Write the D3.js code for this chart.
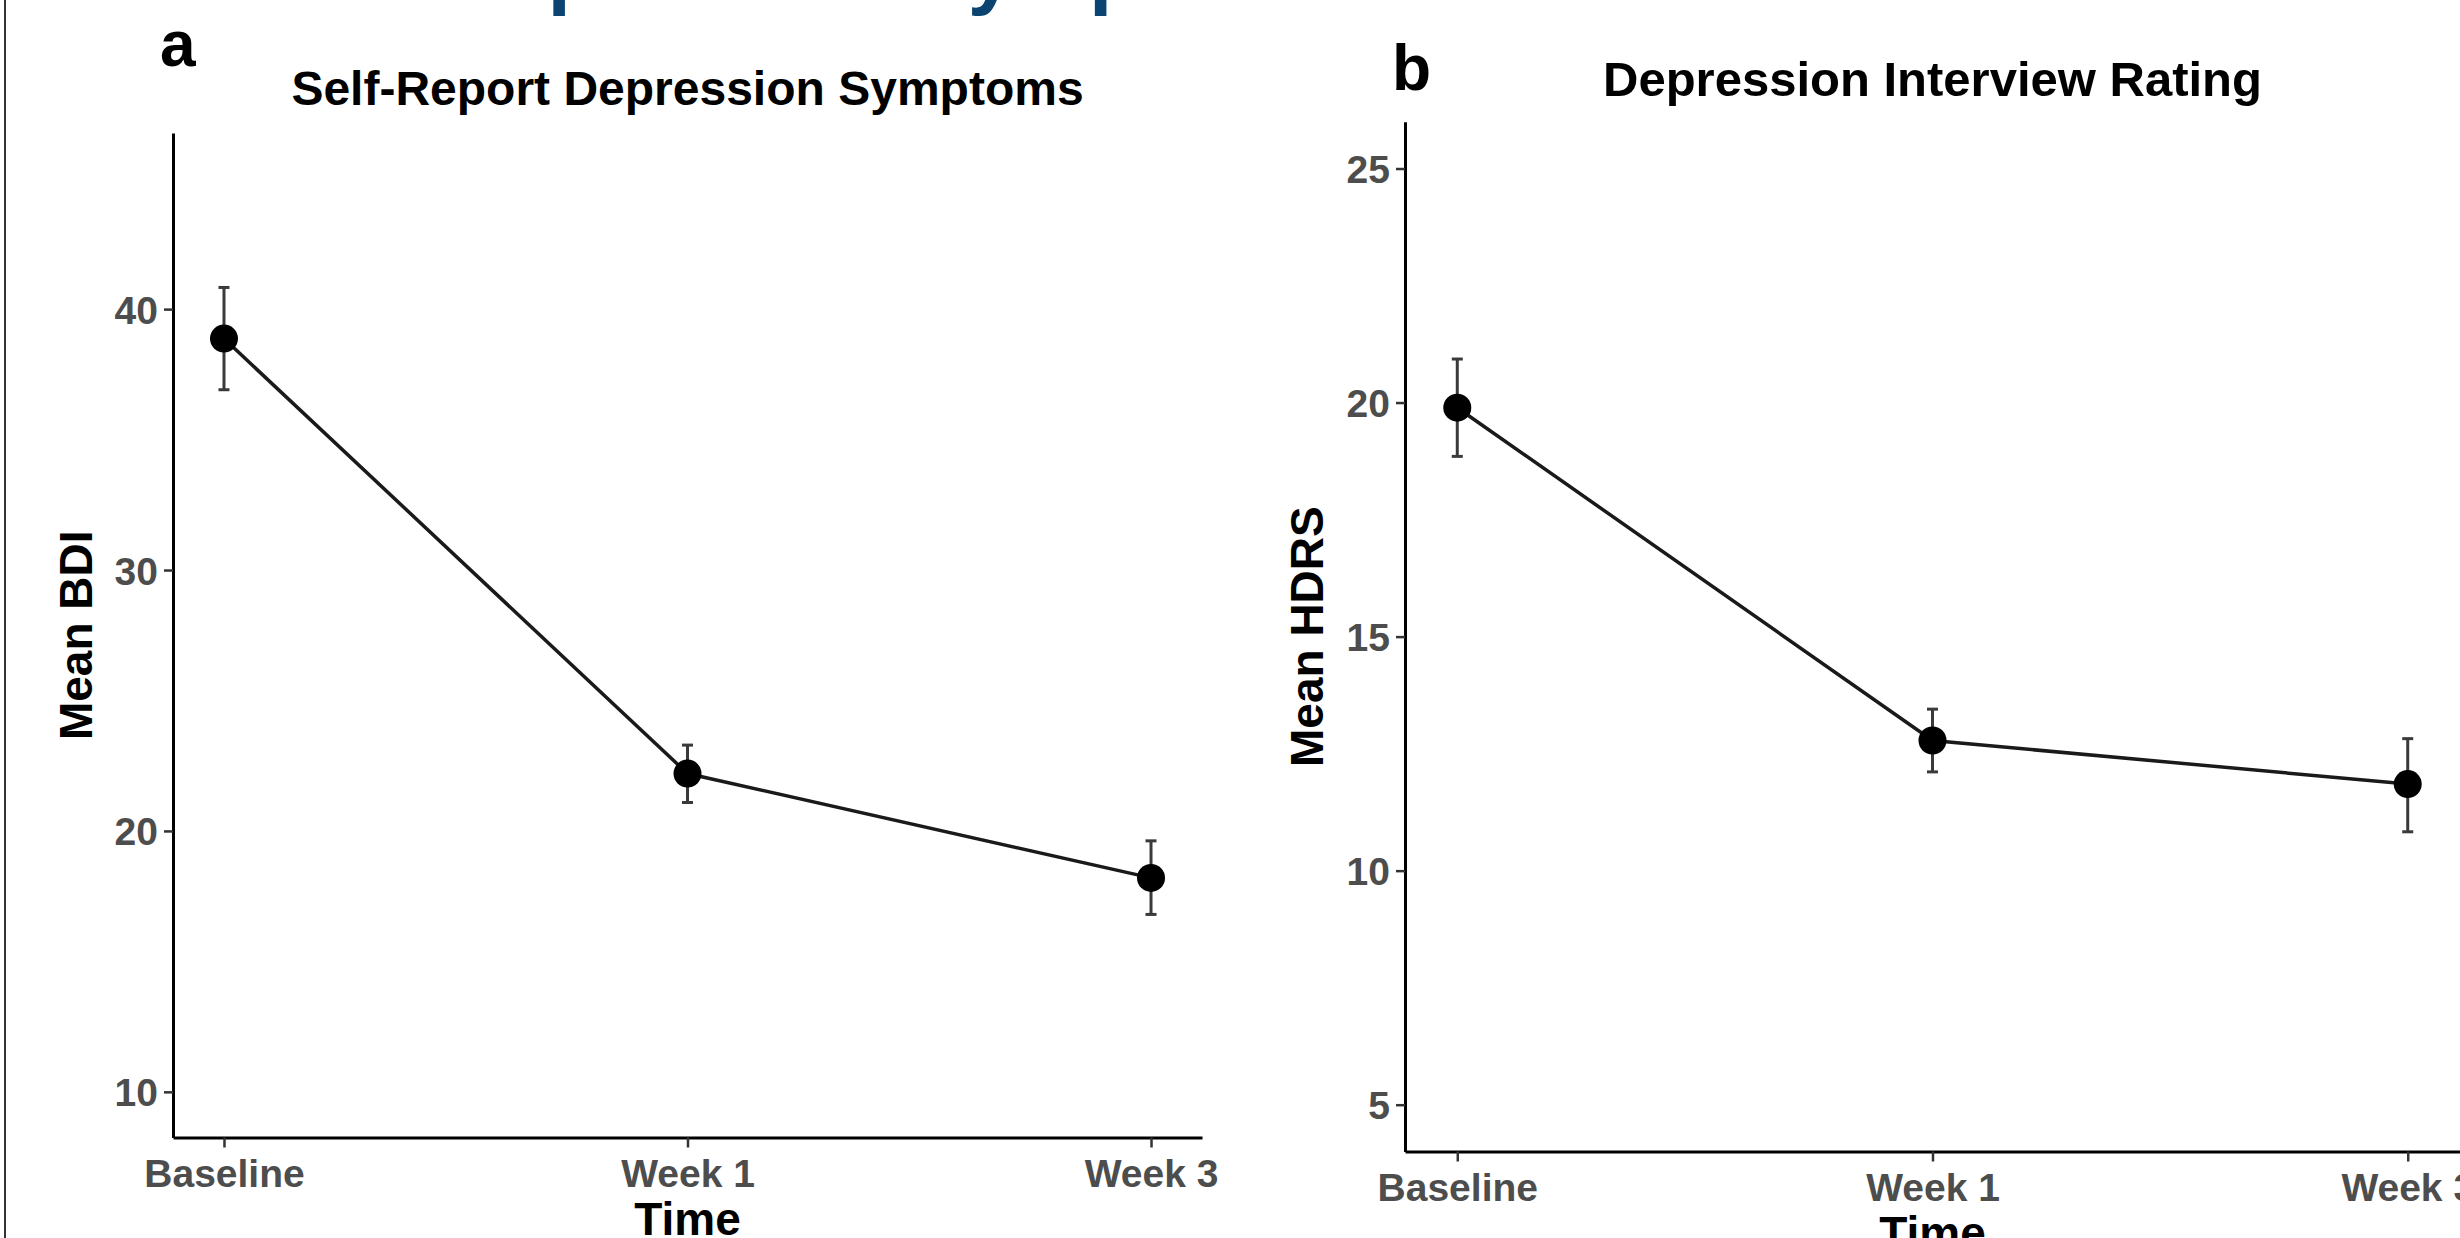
<!DOCTYPE html>
<html>
<head>
<meta charset="utf-8">
<script src="https://cdn.jsdelivr.net/npm/d3@7"></script>
<style>
  html, body { margin: 0; padding: 0; background: #ffffff; }
  svg { display: block; font-family: "Liberation Sans", Arial, Helvetica, sans-serif; }
</style>
</head>
<body>
<svg id="chart" width="2460" height="1238"></svg>
<script>
// ---- data ----
const categories = ["Baseline", "Week 1", "Week 3"];

const bdiMean  = [38.87, 22.20, 18.20];
const bdiLower = [36.91, 21.09, 16.80];
const bdiUpper = [40.83, 23.29, 19.62];

const hdrsMean  = [19.89, 12.78, 11.85];
const hdrsLower = [18.85, 12.11, 10.83];
const hdrsUpper = [20.93, 13.45, 12.82];

const bdiTicks  = [10, 20, 30, 40];
const hdrsTicks = [5, 10, 15, 20, 25];

const panelTitles = ["Self-Report Depression Symptoms", "Depression Interview Rating"];
const panelLetters = ["a", "b"];
const yTitles = ["Mean BDI", "Mean HDRS"];
const xTitle = "Time";
const topTitle = "Depressive Symptoms Across Treatment";

// ---- drawing ----
const svg = d3.select("#chart");
svg.append("rect").attr("width", 2460).attr("height", 1238).attr("fill", "#ffffff");

// cut-off figure title at very top
svg.append("text")
  .attr("x", 440).attr("y", -1)
  .attr("font-size", 84).attr("font-weight", "bold")
  .attr("fill", "#0b4470")
  .text(topTitle);

// left frame line
svg.append("line")
  .attr("x1", 5).attr("x2", 5).attr("y1", 0).attr("y2", 1238)
  .attr("stroke", "#333").attr("stroke-width", 2);

function panel(cfg) {
  const g = svg.append("g");
  const x = d3.scalePoint().domain(categories).range([cfg.left, cfg.right]).padding(0.11);
  const y = d3.scaleLinear().domain(cfg.yDomain).range([cfg.bottom, cfg.top]);

  // y axis
  const yAxis = g.append("g")
    .attr("transform", `translate(${cfg.left},0)`)
    .call(d3.axisLeft(y).tickValues(cfg.ticks).tickSize(9).tickSizeOuter(0).tickPadding(6));
  // x axis
  const xAxis = g.append("g")
    .attr("transform", `translate(0,${cfg.bottom})`)
    .call(d3.axisBottom(x).tickSize(10).tickSizeOuter(0).tickPadding(12));

  [yAxis, xAxis].forEach(ax => {
    ax.select(".domain").attr("stroke", "#000").attr("stroke-width", 3);
    ax.selectAll(".tick line").attr("stroke", "#333").attr("stroke-width", 2.5);
    ax.selectAll(".tick text")
      .attr("fill", "#4d4d4d").attr("font-size", 39).attr("font-weight", "bold")
      .attr("font-family", "Liberation Sans, Arial, sans-serif");
  });
  yAxis.selectAll(".tick text").attr("dy", "0.36em");
  xAxis.selectAll(".tick text").attr("dy", "0.71em");

  // data line
  const pts = categories.map((c, i) => ({ c, m: cfg.mean[i], lo: cfg.lower[i], hi: cfg.upper[i] }));
  g.append("path")
    .datum(pts)
    .attr("fill", "none").attr("stroke", "#1a1a1a").attr("stroke-width", 3.5)
    .attr("d", d3.line().x(d => x(d.c)).y(d => y(d.m)));

  // error bars
  const eb = g.selectAll(".eb").data(pts).enter().append("g");
  eb.append("line")
    .attr("x1", d => x(d.c)).attr("x2", d => x(d.c))
    .attr("y1", d => y(d.lo)).attr("y2", d => y(d.hi))
    .attr("stroke", "#3a3a3a").attr("stroke-width", 3);
  eb.append("line")
    .attr("x1", d => x(d.c) - 5.5).attr("x2", d => x(d.c) + 5.5)
    .attr("y1", d => y(d.hi)).attr("y2", d => y(d.hi))
    .attr("stroke", "#3a3a3a").attr("stroke-width", 3);
  eb.append("line")
    .attr("x1", d => x(d.c) - 5.5).attr("x2", d => x(d.c) + 5.5)
    .attr("y1", d => y(d.lo)).attr("y2", d => y(d.lo))
    .attr("stroke", "#3a3a3a").attr("stroke-width", 3);

  // points
  g.selectAll(".pt").data(pts).enter().append("circle")
    .attr("cx", d => x(d.c)).attr("cy", d => y(d.m)).attr("r", 14)
    .attr("fill", "#000");

  // titles
  g.append("text")
    .attr("x", (cfg.left + cfg.right) / 2).attr("y", cfg.titleY)
    .attr("text-anchor", "middle").attr("font-size", cfg.titleSize).attr("font-weight", "bold")
    .attr("fill", "#000").text(cfg.title);

  g.append("text")
    .attr("x", cfg.letterX).attr("y", cfg.letterY)
    .attr("font-size", 64).attr("font-weight", "bold")
    .attr("fill", "#000").text(cfg.letter);

  g.append("text")
    .attr("transform", `translate(${cfg.yTitleX},${(cfg.top + cfg.bottom) / 2}) rotate(-90)`)
    .attr("text-anchor", "middle").attr("font-size", 46).attr("font-weight", "bold")
    .attr("fill", "#000").text(cfg.yTitle);

  g.append("text")
    .attr("x", (cfg.left + cfg.right) / 2).attr("y", cfg.bottom + 97)
    .attr("text-anchor", "middle").attr("font-size", 46).attr("font-weight", "bold")
    .attr("fill", "#000").text(xTitle);
}

panel({
  left: 173, right: 1202, top: 133, bottom: 1137.5,
  yDomain: [8.25, 46.75], ticks: bdiTicks,
  mean: bdiMean, lower: bdiLower, upper: bdiUpper,
  title: panelTitles[0], titleY: 105, titleSize: 48,
  letter: panelLetters[0], letterX: 160, letterY: 66,
  yTitle: yTitles[0], yTitleX: 92
});

panel({
  left: 1405, right: 2460, top: 121.7, bottom: 1151.5,
  yDomain: [4, 26], ticks: hdrsTicks,
  mean: hdrsMean, lower: hdrsLower, upper: hdrsUpper,
  title: panelTitles[1], titleY: 96, titleSize: 49,
  letter: panelLetters[1], letterX: 1392, letterY: 90,
  yTitle: yTitles[1], yTitleX: 1323
});
</script>
</body>
</html>
